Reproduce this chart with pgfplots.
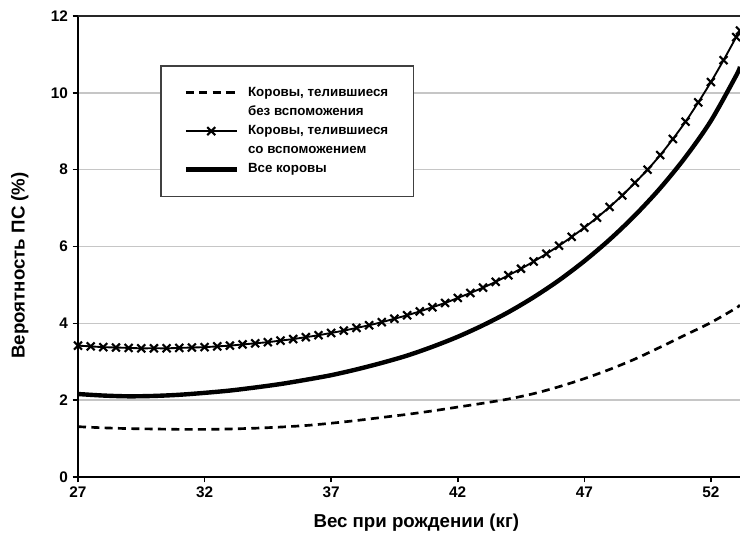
\documentclass[border=0pt]{standalone}
\usepackage{fontspec}
\setmainfont{Liberation Sans}
\usepackage{pgfplots}
\usepackage{pgfplotstable}
\pgfplotsset{compat=1.18}

% cows calved without assistance
\pgfplotstableread{
x y
27 1.31
28 1.28
29 1.26
30 1.25
31 1.24
32 1.24
33 1.25
34 1.27
35 1.30
36 1.34
37 1.40
38 1.47
39 1.55
40 1.63
41 1.72
42 1.82
43 1.92
44 2.03
45 2.17
46 2.35
47 2.56
48 2.80
49 3.07
50 3.38
51 3.70
52 4.02
53 4.40
53.15 4.48
}\dashdata

% cows calved with assistance
\pgfplotstableread{
x y
27.0 3.42
27.5 3.40
28.0 3.38
28.5 3.37
29.0 3.36
29.5 3.35
30.0 3.35
30.5 3.35
31.0 3.36
31.5 3.37
32.0 3.38
32.5 3.40
33.0 3.42
33.5 3.45
34.0 3.48
34.5 3.51
35.0 3.55
35.5 3.59
36.0 3.64
36.5 3.69
37.0 3.75
37.5 3.81
38.0 3.88
38.5 3.95
39.0 4.03
39.5 4.12
40.0 4.21
40.5 4.31
41.0 4.42
41.5 4.53
42.0 4.66
42.5 4.79
43.0 4.93
43.5 5.08
44.0 5.25
44.5 5.42
45.0 5.61
45.5 5.81
46.0 6.02
46.5 6.25
47.0 6.49
47.5 6.75
48.0 7.03
48.5 7.33
49.0 7.66
49.5 8.00
50.0 8.38
50.5 8.80
51.0 9.25
51.5 9.75
52.0 10.28
52.5 10.85
53.0 11.45
53.15 11.62
}\assistdata

% all cows
\pgfplotstableread{
x y
27 2.16
28 2.12
29 2.10
30 2.11
31 2.14
32 2.19
33 2.25
34 2.33
35 2.42
36 2.53
37 2.65
38 2.80
39 2.97
40 3.16
41 3.39
42 3.65
43 3.95
44 4.29
45 4.68
46 5.12
47 5.62
48 6.18
49 6.81
50 7.52
51 8.33
52 9.27
53 10.45
53.15 10.68
}\alldata

\begin{document}
\begin{tikzpicture}
\useasboundingbox (-58.5pt,-45.75pt) rectangle (496.5pt,357.75pt);
\begin{axis}[
    at={(0pt,0pt)}, anchor=south west,
    scale only axis,
    width=496.5pt, height=345.75pt,
    xmin=27, xmax=53.15, ymin=0, ymax=12,
    xtick={27,32,...,52}, ytick={0,2,...,12},
    axis x line*=bottom, axis y line*=left,
    x axis line style={-}, y axis line style={-},
    axis line style={line width=1.6pt, black},
    tick align=outside, major tick length=4pt,
    tick style={line width=1.2pt, black},
    ymajorgrids, major grid style={gray!45, line width=1.2pt},
    ticklabel style={font=\bfseries\fontsize{11.5}{13}\selectfont},
    /pgf/number format/assume math mode=true,
    xlabel={Вес при рождении (кг)},
    ylabel={Вероятность ПС (\%)},
    label style={font=\bfseries\fontsize{14}{16}\selectfont},
    xlabel style={at={(axis description cs:0.511,-0.098)}, anchor=center},
    ylabel style={at={(axis description cs:-0.088,0.459)}, anchor=center},
    legend style={at={(0.124,0.894)}, anchor=north west,
        draw=black!75, line width=1.4pt,
        font=\bfseries\fontsize{10}{12}\selectfont,
        cells={anchor=west},
        nodes={inner ysep=2.2pt, text height=7.6pt, text depth=2.4pt},
        /tikz/every odd column/.append style={column sep=5pt},
        inner xsep=17pt, inner ysep=13pt, row sep=0pt},
    legend cell align=left,
    legend image code/.code={\draw[mark repeat=2, mark phase=2, #1] plot coordinates {(0pt,0pt) (19pt,0pt) (38pt,0pt)};},
]
\addplot[black, line width=2pt, dash pattern=on 6pt off 4pt, smooth] table {\dashdata};
\addlegendentry{Коровы, телившиеся}
\addlegendimage{empty legend}
\addlegendentry{без вспоможения}
\addplot[black, line width=1.4pt, smooth, mark=x, mark size=4.2pt, mark options={line width=1.6pt, solid}] table {\assistdata};
\addlegendentry{Коровы, телившиеся}
\addlegendimage{empty legend}
\addlegendentry{со вспоможением}
\addplot[black, line width=3.3pt, smooth] table {\alldata};
\addlegendentry{Все коровы}
\end{axis}
\draw[black!85, line width=1.3pt] (0pt,345.75pt) -- (496.5pt,345.75pt);
\end{tikzpicture}
\end{document}
